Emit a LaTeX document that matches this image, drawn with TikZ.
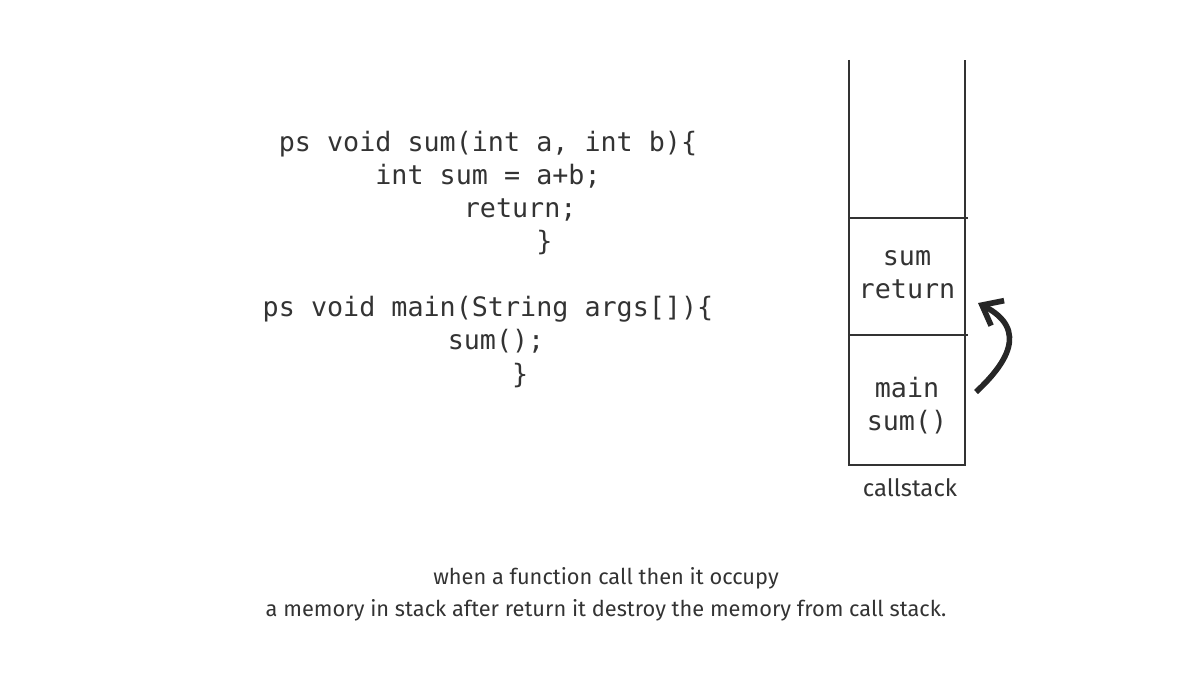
\documentclass[tikz,border=0pt]{standalone}
\usepackage{fontspec}
\setmonofont{DejaVu Sans Mono}
\newfontfamily\handfont{Fira Sans}
\usetikzlibrary{arrows.meta}

\begin{document}
\begin{tikzpicture}[x=0.01cm,y=-0.01cm, line width=0.6pt, every node/.style={text=black!80, inner sep=0pt},
  code/.style={font=\ttfamily\fontsize{7.6}{9.4}\selectfont, align=center},
  hand/.style={font=\handfont\fontsize{6.2}{9}\selectfont, align=center}]
\useasboundingbox (0,0) rectangle (1200,679);

% code
\node[code] (sumfn) at (488,193) {ps void sum(int a, int b)\{\\ int sum = a+b;\\ \ \ \ \ return;\\ \ \ \ \ \ \ \ \}};
\node[code] (mainfn) at (488,342) {ps void main(String args[])\{\\ \ sum();\\ \ \ \ \ \}};

% call stack
\coordinate (tl) at (849,60);
\coordinate (tr) at (965,60);
\coordinate (bl) at (849,465);
\coordinate (br) at (965,465);
\draw[black!80] (tl) -- (bl) -- (br) -- (tr);
\draw[black!80] (849,218) -- (968,218);
\draw[black!80] (849,335) -- (968,335);

\node[code] (sumframe) at (907,275) {sum\\return};
\node[code] (mainframe) at (907,406) {main\\sum()};
\node[hand, font=\handfont\fontsize{6.8}{9}\selectfont] (stacklbl) at (910,488) {callstack};

% return arrow
\coordinate (arrstart) at (976,392);
\draw[black!85, line width=1.6pt, -{Straight Barb[length=5pt,width=8pt]}]
  (arrstart) .. controls (1005,365) and (1030,330) .. (978,303);

% caption
\node[hand] (caption) at (606,594) {when a function call then it occupy\\
a memory in stack after return it destroy the memory from call stack.};
\end{tikzpicture}
\end{document}
